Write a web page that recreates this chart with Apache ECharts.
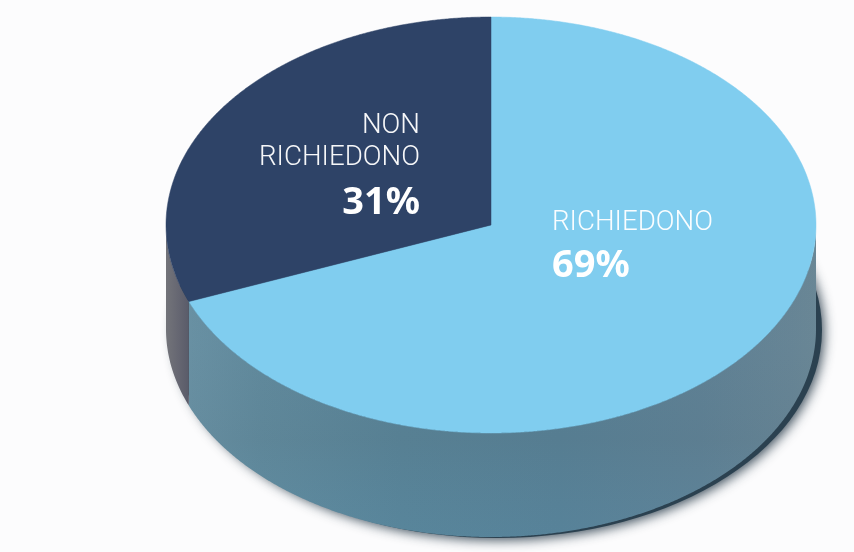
<!DOCTYPE html>
<html><head><meta charset="utf-8">
<style>html,body{margin:0;padding:0;background:#fff}#c{width:854px;height:552px}</style>
<script src="https://cdn.jsdelivr.net/npm/echarts@6/dist/echarts.min.js"></script>
</head><body><div id="c"></div>
<script>
const categories = ['RICHIEDONO', 'NON\nRICHIEDONO'];
const values = [69, 31];
const percentLabels = ['69%', '31%'];

const G = {cx: 491, cy: 225, rx: 325, ry: 208, depth: 104};
const topColors = ['#80cdef', '#2e4367'];
const labelPos = [
  {x: 552, y: 223, align: 'left', pctY: 266},
  {x: 420, y: 158, align: 'right', pctY: 203}
];
const total = values.reduce((a, b) => a + b, 0);

function pt(t, dy) { // t: clockwise radians from 12 o'clock
  return [G.cx + G.rx * Math.sin(t), G.cy - G.ry * Math.cos(t) + (dy || 0)];
}
function arc(a, b, dy) {
  const n = Math.max(2, Math.ceil(Math.abs(b - a) / 0.005)), out = [];
  for (let i = 0; i <= n; i++) out.push(pt(a + (b - a) * i / n, dy));
  return out;
}
function angles(i) {
  let s = 0;
  for (let k = 0; k < i; k++) s += values[k];
  return [s / total * 2 * Math.PI, (s + values[i]) / total * 2 * Math.PI];
}
function wall(a, b) {
  // visible front part of the rim only: between 3 o'clock and 9 o'clock
  const lo = Math.max(a, Math.PI / 2), hi = Math.min(b, Math.PI * 1.5);
  return arc(lo, hi, 0).concat(arc(hi, lo, G.depth));
}
function lin(x0, x1, stops) {
  return {type: 'linear', global: true, x: x0, y: 0, x2: x1, y2: 0,
    colorStops: stops.map(s => ({offset: (s[0] - x0) / (x1 - x0), color: s[1]}))};
}
function linV(y0, y1, stops) {
  return {type: 'linear', global: true, x: 0, y: y0, x2: 0, y2: y1,
    colorStops: stops.map(s => ({offset: (s[0] - y0) / (y1 - y0), color: s[1]}))};
}

const chart = echarts.init(document.getElementById('c'), null, {renderer: 'canvas'});

const shadowSeries = {
  type: 'custom', coordinateSystem: 'none', silent: true, z: 1,
  data: [total],
  renderItem() {
    return {
      type: 'ellipse',
      shape: {cx: G.cx + 6, cy: G.cy + G.depth + 1, rx: G.rx, ry: G.ry},
      style: {fill: '#2b4150', shadowBlur: 12, shadowColor: 'rgba(25,45,60,0.85)', shadowOffsetX: 2, shadowOffsetY: 2}
    };
  }
};
const wallSeries = {
  type: 'custom', coordinateSystem: 'none', silent: true, z: 2,
  data: values.map((v, i) => [i, v]),
  renderItem(params, api) {
    const i = api.value(0), [a, b] = angles(i), pts = wall(a, b);
    const base = i === 0
      ? lin(190, 816, [[190, '#6a93a6'], [260, '#628c9f'], [400, '#5a8599'], [560, '#598297'], [700, '#608397'], [790, '#688798'], [816, '#6b8998']])
      : lin(167, 190, [[167, '#727379'], [178, '#666772'], [190, '#585a68']]);
    const children = [{type: 'polygon', shape: {points: pts}, style: {fill: base}}];
    if (i === 0) children.push({type: 'polygon', shape: {points: pts},
      style: {fill: linV(340, 537, [[340, 'rgba(60,70,80,0.04)'], [440, 'rgba(50,65,75,0.08)'], [537, 'rgba(60,140,190,0.06)']])}});
    return {type: 'group', children};
  }
};
const topSeries = {
  type: 'custom', coordinateSystem: 'none', silent: true, z: 3,
  data: values.map((v, i) => [i, v]),
  renderItem(params, api) {
    const i = api.value(0), [a, b] = angles(i);
    return {type: 'polygon',
      shape: {points: [[G.cx, G.cy]].concat(arc(a, b, 0))},
      style: {fill: topColors[i], stroke: topColors[i], lineWidth: 0.5}};
  }
};
const labelSeries = {
  type: 'custom', coordinateSystem: 'none', silent: true, z: 4,
  data: categories.map((c, i) => [i]),
  renderItem(params, api) {
    const i = api.value(0), p = labelPos[i];
    const lines = categories[i].split('\n');
    const children = lines.map((t, k) => ({type: 'text', style: {
      text: t, x: p.x, y: p.y - (lines.length - 1 - k) * 32, align: p.align, verticalAlign: 'middle',
      fill: 'rgba(255,255,255,0.96)', fontFamily: 'Roboto', fontWeight: 300, fontSize: 27.7}}));
    children.push({type: 'text', style: {
      text: percentLabels[i], x: p.x, y: p.pctY, align: p.align, verticalAlign: 'middle',
      fill: '#ffffff', fontFamily: '"Noto Sans"', fontWeight: 700, fontSize: 38}});
    return {type: 'group', children};
  }
};

chart.setOption({
  animation: false,
  backgroundColor: '#fcfcfd',
  series: [shadowSeries, wallSeries, topSeries, labelSeries]
});
</script></body></html>
